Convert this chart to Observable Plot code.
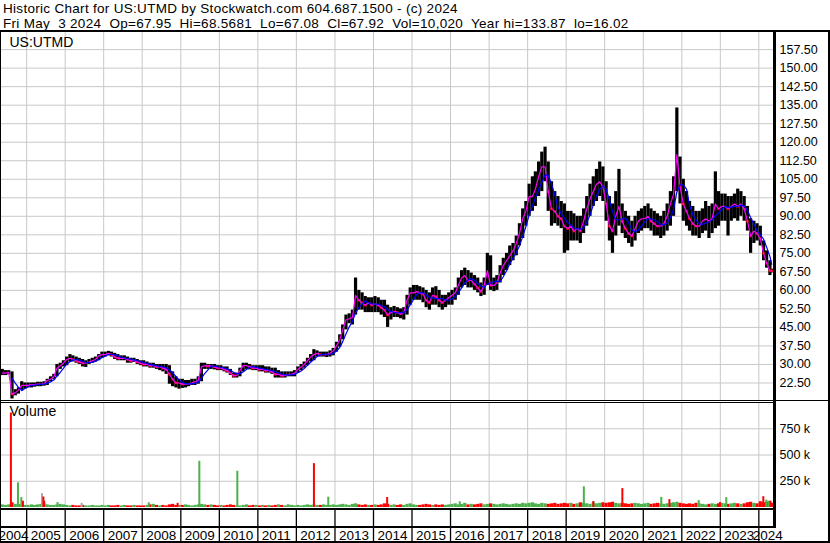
<!DOCTYPE html>
<html><head><meta charset="utf-8">
<script src="https://cdn.jsdelivr.net/npm/d3@7"></script>
<script src="https://cdn.jsdelivr.net/npm/@observablehq/plot@0.6"></script>
<style>
body{margin:0;background:#fff;font-family:"Liberation Sans",Arial,sans-serif;}
#wrap{position:relative;width:830px;height:543px;overflow:hidden;background:#fff}
#wrap > svg, #wrap > div{position:absolute}
.t{left:3px;font-size:13.5px;letter-spacing:0.3px;color:#000;white-space:pre;line-height:15px}
.ln{background:#000}
</style></head><body><div id="wrap"></div>
<script>
// ---------- data (monthly, May 2004 .. May 2024) ----------
const titleLine1 = "Historic Chart for US:UTMD by Stockwatch.com 604.687.1500 - (c) 2024";
const titleLine2 = "Fri May  3 2024  Op=67.95  Hi=68.5681  Lo=67.08  Cl=67.92  Vol=10,020  Year hi=133.87  lo=16.02";
const symbol = "US:UTMD";

const hi = [
 28,27.5,27.5,27,19.8,20.5,23,22.5,
 22.5,22.5,22.5,22.8,22.8,23,24,25,26,30,30.5,31.5,
 33,34,33.5,33,32.5,32,31.5,32,32.5,33,34,35,
 35,35.3,35,34.5,34,33.5,33.5,33,32.5,32.5,32,31.5,
 31.5,31,30.5,30.5,30,30,30,30,29.5,27,25,24,
 24,23.5,23.5,24,24,25,30.5,30.5,30,30,30,29.5,
 29.5,29,29,28,26.5,26.5,28.5,30.5,30.5,30,29.5,29.5,
 29.5,29.5,29,29,28.5,28.5,27.5,27,27,27,27,27.5,
 29,30,31,32.5,34,36,35.5,35,35,35,35.5,36.5,
 39,42,46,50,50.5,52,65,60,59,57.5,57,57,
 57.5,57,56,56,54,53,53.5,53,52.5,53,58,61,
 62,62,61.5,61,60,59,61,61.5,60,58,58,59,
 60,61,65,68,69,68,67,66,65,63,65,75,
 74,65,66,70,73,75,78,79,82,87,93,96,
 103,106,108,112,116,118,112,104,100,98,96,95,
 92,92,91,90,90,93,98,103,106,109,112,110,
 104,98,95,100,109,95,92,90,88,90,92,93,
 94,95,93,92,91,90,92,95,100,106,133.87,114,
 105,100,96,94,92,92,93,96,94,95,108,100,
 99,99,98,98,99,101,100,98,94,89,88,87,
 86,80,76,72,68.57
];
const lo = [
 25.5,25.5,25.8,16.02,17.3,18,19.5,20,
 20.5,20.5,20.8,21,21,21.2,21.5,23,23.8,25,28,29,
 29.5,31,31,30.5,30,29,28.8,30,30.5,31,31.5,32.5,
 33,33.5,33,32,31.5,31.5,31.5,30.5,30.5,30.8,30,29.5,
 29,29,28.5,28.5,28,27.5,27,26,22,21,20.5,20,
 20.3,20.5,21,21.5,21.5,22,23,28,28,28,27.8,27.5,
 27.5,27,26.5,25.5,24.5,24.5,25,27,28,27.8,27.5,27.5,
 27,27,26.5,26.5,26,24.5,24.5,24.5,24.5,25,25,25,
 26.5,27.5,28.5,29.5,31,31.5,33,33,33,32.8,33,33.5,
 35,37,40,44,46.5,46,50,52,52,51,51,51,
 51,51,50,49,45,48,49,49,48.5,48,50,54,
 56,56,56,55,53,52,54,54,53,52,53,54,
 54,56,58,61,62,61,61,60,59,57.5,58,62,
 60,59.5,60,63,66,68,70,72,74,78,81,86,
 90,92,94,98,100,104,92,86,87,86,85,75,
 76,80,80,80,79,83,86,90,94,96,98,96,
 88,80,75,82,86,83,81,79,77.5,80,83,84,
 85,85,84,82,82,81,82,84,86,90,100,95,
 88,86,84,82,82,81,83,84,81,83,85,86,
 88,88,82,88,89,88,90,88,84,75,79,80,
 78,72,69,66,67.08
];
const cl = [
 26.5,26.5,26.8,18,18.5,19.5,21.5,21.5,
 21.5,21.8,21.8,22,22,22.2,23.5,24,25,28.5,29.5,30.5,
 32,32.5,32,31.5,31,30.5,30.5,31,31.5,32,33.5,34,
 34,34.5,34,33,32.5,32.5,32.5,32,31.5,31.5,31,30.5,
 30,30,29.5,29.5,29,29,28.5,28,26,24,22.5,22.5,
 22,22,22,22.5,23,23.5,29,29.5,29.3,29.5,29,28.5,
 28.5,28,27.5,26.5,25.5,25.5,27.5,29.5,29.5,29,28.5,28.5,
 28,28,27.5,27.5,27,26,26,25.5,25.5,26,26,26.5,
 28,29,30,31.5,33,34,34.5,34,34,34,34.5,35.5,
 37.5,40,44,48,48.5,49,58,56,55,54,55,54,
 54.5,54,53,52,50,51,51.5,51,50.5,51,56,59,
 59,59.5,59,58.5,56,55,58,57.5,56,55,56,57,
 58,59,62,65,66,64,64,62.5,61,59.5,62,68,
 62,62,63,67,70,72,74,76,79,83,89,92,
 98,98,101,106,110,110,100,93,92,90,89,86,
 85,86,84,85,84,88,93,97,100,103,104,102,
 95,86,84,90,94,88,85,83,82,85,88,89,
 89,90,88,87,86,86,87,90,95,99,115,102,
 95,92,89,87,86,86,88,89,88,89,95,93,
 94,94,93,94,95,94,95,93,88,82,84,83,
 81,75,71,68,67.92
];
// typical daily volume level per month, in thousands
const baseVol = [
 25,20,25,45,30,30,25,20,
 20,25,20,25,30,35,25,20,20,25,30,25,
 20,15,20,15,15,20,15,15,20,15,15,20,
 15,20,15,15,20,15,20,15,15,20,15,15,
 15,20,25,30,20,15,20,15,25,30,20,20,
 20,25,20,15,20,25,30,25,20,25,20,15,
 20,15,20,25,20,15,15,20,25,15,20,20,
 15,20,15,20,15,20,25,20,15,25,20,15,
 20,15,20,25,20,25,20,20,25,20,20,25,
 20,25,30,25,20,30,35,25,20,25,20,20,
 25,20,25,35,30,20,25,20,25,20,30,35,
 25,20,20,25,30,25,20,25,20,25,20,25,
 30,35,25,30,40,25,30,25,30,35,25,30,
 35,30,25,30,35,30,25,30,35,30,40,35,
 40,45,35,30,40,35,30,35,40,30,35,40,
 35,40,30,35,45,40,35,30,45,35,40,45,
 40,45,50,40,35,40,35,30,35,40,35,30,
 35,40,30,35,40,35,30,35,40,45,50,40,
 35,30,35,30,40,35,30,25,30,35,30,35,
 40,35,30,35,40,35,30,35,45,50,40,35,
 55,45,50,60,40
];
// single-day volume spikes
const spikeDates = ["2004-08-04","2004-10-10","2004-11-11","2004-11-26","2005-05-26","2005-06-08","2005-06-15","2005-10-20","2006-06-05","2008-03-03","2008-12-01","2009-06-25","2010-06-20","2012-06-15","2012-10-29","2014-05-10","2016-03-28","2019-06-17","2019-09-15","2020-06-16","2021-06-20","2021-09-05","2022-06-10","2022-12-28","2023-02-26","2024-02-12","2024-03-12","2024-04-01"];
const spikeVols = [900,235,94,60,132,100,60,47,40,45,40,440,345,418,98,95,55,197,57,180,97,75,66,47,94,103,70,57];
const spikeColors = ["red","green","green","red","grey","red","red","green","grey","green","red","green","green","red","green","red","green","green","red","red","green","red","green","red","green","red","green","green"];

const priceTicks = [22.5,30,37.5,45,52.5,60,67.5,75,82.5,90,97.5,105,112.5,120,127.5,135,142.5,150,157.5];
const volTicks = [250000,500000,750000];
const yearLabels = [2004,2005,2006,2007,2008,2009,2010,2011,2012,2013,2014,2015,2016,2017,2018,2019,2020,2021,2022,2023,2024];

// ---------- derived tables ----------
const colorMap = {red:"#ff0000", green:"#4cb04c", grey:"#a8a8a8"};
const n = hi.length;
const bars = hi.map((h,i) => ({
  date: i === n-1 ? new Date(Date.UTC(2024,4,2)) : new Date(Date.UTC(2004,4+i,15)),
  hi: h, lo: lo[i], cl: cl[i],
  down: i > 0 && cl[i] < cl[i-1],
  vol: baseVol[i]*1000
}));
const spikes = spikeDates.map((d,i) => ({date: new Date(d+"T12:00:00Z"), vol: spikeVols[i]*1000, color: colorMap[spikeColors[i]]}));
const yearStarts = yearLabels.slice(1).map(y => new Date(Date.UTC(y,0,1)));
const xDomain = [new Date(Date.UTC(2004,3,28)), new Date(Date.UTC(2024,4,19))];
const FONT = '"Liberation Sans", Arial, sans-serif';
const W = 830, MR = 57;
const wrap = document.getElementById("wrap");

function place(el, top){ el.style.left = "0px"; el.style.top = top+"px"; wrap.appendChild(el); }

// ---------- price panel ----------
const price = Plot.plot({
  width: W, height: 369, marginLeft: 0, marginRight: MR, marginTop: 0, marginBottom: 0,
  style: {fontFamily: FONT, fontSize: "12.5px", color: "#000", background: "transparent", overflow: "visible"},
  x: {type: "utc", domain: xDomain, axis: null},
  y: {domain: [15, 164.43], axis: null},
  marks: [
    Plot.gridY(priceTicks, {stroke: "#c8c8c8", strokeOpacity: 1}),
    Plot.ruleX(yearStarts, {stroke: "#c8c8c8", strokeOpacity: 1}),
    Plot.ruleX(bars, {x: "date", y1: "lo", y2: "hi", stroke: "#000", strokeWidth: 3.2}),
    Plot.dot(bars.filter(d => d.down), {x: "date", y: "cl", r: 1.4, symbol: "square", fill: "#ff0000"}),
    Plot.lineY(bars, {x: "date", y: "cl", stroke: "#ff00ff", strokeWidth: 1.2}),
    Plot.lineY(bars, Plot.windowY({k: 4, anchor: "end", strict: true}, {x: "date", y: "cl", stroke: "#0000ff", strokeWidth: 1.2})),
    Plot.axisY(priceTicks, {anchor: "right", label: null, tickSize: 0, tickPadding: 6, tickFormat: d => d.toFixed(2), fontSize: "12.5px"}),
    Plot.text([symbol], {frameAnchor: "top-left", dx: 9, dy: 5, fontSize: "14px", textAnchor: "start", lineAnchor: "top"})
  ]
});
place(price, 32);

// ---------- volume panel ----------
const volume = Plot.plot({
  width: W, height: 104, marginLeft: 0, marginRight: MR, marginTop: 0, marginBottom: 0,
  style: {fontFamily: FONT, fontSize: "12.5px", color: "#000", background: "transparent", overflow: "visible"},
  x: {type: "utc", domain: xDomain, axis: null},
  y: {domain: [0, 991000], axis: null},
  marks: [
    Plot.gridY(volTicks, {stroke: "#c8c8c8", strokeOpacity: 1}),
    Plot.ruleX(yearStarts, {stroke: "#c8c8c8", strokeOpacity: 1}),
    Plot.ruleX(bars, {x: "date", y1: 0, y2: "vol", stroke: d => d.down ? "#ff0000" : "#4cb04c", strokeWidth: 3.2}),
    Plot.ruleX(spikes, {x: "date", y1: 0, y2: "vol", stroke: "color", strokeWidth: 2}),
    Plot.axisY(volTicks, {anchor: "right", label: null, tickSize: 0, tickPadding: 6, tickFormat: d => (d/1000) + " k", fontSize: "12.5px"}),
    Plot.text(["Volume"], {frameAnchor: "top-left", dx: 9, dy: 3, fontSize: "14px", textAnchor: "start", lineAnchor: "top"})
  ]
});
place(volume, 403);

// ---------- year strip ----------
const strip = Plot.plot({
  width: W, height: 31, marginLeft: 0, marginRight: MR, marginTop: 0, marginBottom: 0,
  style: {fontFamily: FONT, fontSize: "13.5px", color: "#000", background: "transparent", overflow: "visible"},
  x: {type: "utc", domain: xDomain, axis: null},
  marks: [
    Plot.ruleX(yearStarts, {stroke: "#000", strokeWidth: 1.3}),
    Plot.text(yearLabels.slice(1, -1), {x: y => new Date(Date.UTC(y,0,1)), text: d => String(d), frameAnchor: "bottom", textAnchor: "start", dx: 4, dy: -2}),
    Plot.text(yearLabels.slice(0, 1), {x: y => new Date(Date.UTC(y,0,1)), text: d => String(d), frameAnchor: "bottom", textAnchor: "start", dx: 10.5, dy: -2}),
    Plot.text(yearLabels.slice(-1), {x: y => new Date(Date.UTC(y,0,1)), text: d => String(d), frameAnchor: "bottom", textAnchor: "start", dx: -6, dy: -2})
  ]
});
place(strip, 510);

// ---------- title & frame lines ----------
function div(cls, css, text){ const d = document.createElement("div"); d.className = cls; d.style.cssText = css; if (text) d.textContent = text; wrap.appendChild(d); return d; }
div("t", "top:1px;", titleLine1);
div("t", "top:15.5px;", titleLine2);
div("ln", "left:0;top:30px;width:830px;height:2px;");
div("ln", "left:0;top:400px;width:830px;height:1px;");
div("ln", "left:0;top:402px;width:773px;height:1px;");
div("ln", "left:0;top:508px;width:773px;height:2px;");
div("ln", "left:0;top:526px;width:773px;height:2px;");
div("ln", "left:0;top:541px;width:830px;height:2px;");
div("ln", "left:773px;top:30px;width:3px;height:498px;");
div("ln", "left:828px;top:30px;width:2px;height:513px;");
div("ln", "left:0;top:30px;width:1px;height:513px;");
</script></body></html>
